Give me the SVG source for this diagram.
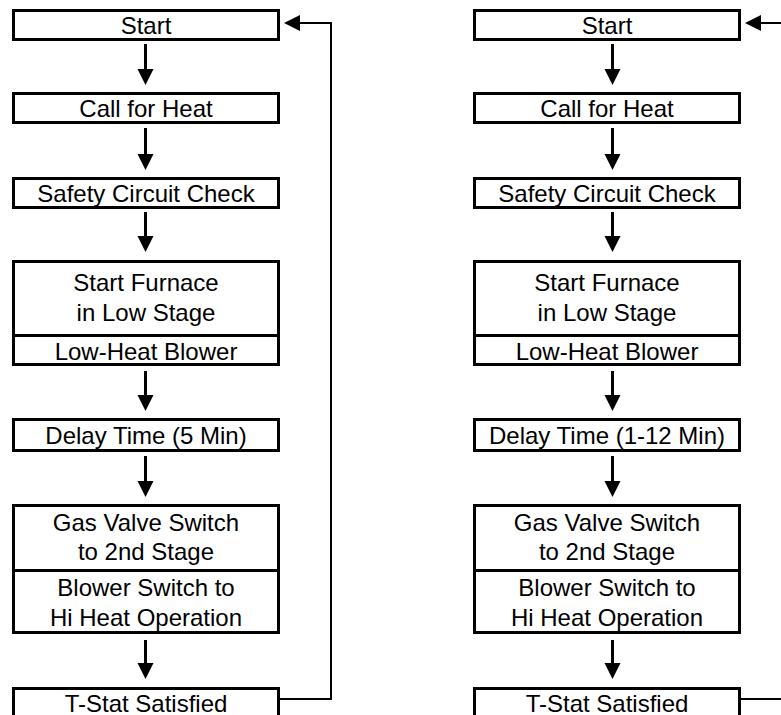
<svg xmlns="http://www.w3.org/2000/svg" width="781" height="715" viewBox="0 0 781 715">
<style>
.box{fill:#fff;stroke:#000;stroke-width:3}
.div{stroke:#000;stroke-width:3}
.t{font-family:"Liberation Sans",Arial,sans-serif;font-size:24px;fill:#000;text-anchor:middle}
.dn{fill:none;stroke:#000;stroke-width:3;marker-end:url(#ah)}
.ret{fill:none;stroke:#000;stroke-width:2}
.retA{fill:none;stroke:#000;stroke-width:2;marker-end:url(#ah)}
</style>
<defs>
<marker id="ah" markerUnits="userSpaceOnUse" markerWidth="16" markerHeight="16" refX="0" refY="8" orient="auto" overflow="visible">
<path d="M0,0 L16,8 L0,16 Z" fill="#000"/>
</marker>
</defs>
<rect width="781" height="715" fill="#fff"/>

<!-- Left column -->
<g id="L-start"><rect class="box" x="13.5" y="10.5" width="265" height="29"/><text class="t" x="146" y="33.5">Start</text></g>
<g id="L-call"><rect class="box" x="13.5" y="93.5" width="265" height="29"/><text class="t" x="146" y="116.5">Call for Heat</text></g>
<g id="L-safety"><rect class="box" x="13.5" y="178.5" width="265" height="29"/><text class="t" x="146" y="201.5">Safety Circuit Check</text></g>
<g id="L-furnace"><rect class="box" x="13.5" y="261.5" width="265" height="103"/><line class="div" x1="13.5" y1="335.5" x2="278.5" y2="335.5"/><text class="t" x="146" y="291">Start Furnace</text><text class="t" x="146" y="321">in Low Stage</text><text class="t" x="146" y="359.5">Low-Heat Blower</text></g>
<g id="L-delay"><rect class="box" x="13.5" y="419.5" width="265" height="31"/><text class="t" x="146" y="443.5">Delay Time (5 Min)</text></g>
<g id="L-gas"><rect class="box" x="13.5" y="505.5" width="265" height="127"/><line class="div" x1="13.5" y1="570.5" x2="278.5" y2="570.5"/><text class="t" x="146" y="531">Gas Valve Switch</text><text class="t" x="146" y="560">to 2nd Stage</text><text class="t" x="146" y="596">Blower Switch to</text><text class="t" x="146" y="626">Hi Heat Operation</text></g>
<g id="L-tstat"><rect class="box" x="13.5" y="688.5" width="265" height="40"/><text class="t" x="146" y="712">T-Stat Satisfied</text></g>

<!-- Right column -->
<g id="R-start"><rect class="box" x="474.5" y="10.5" width="265" height="29"/><text class="t" x="607" y="33.5">Start</text></g>
<g id="R-call"><rect class="box" x="474.5" y="93.5" width="265" height="29"/><text class="t" x="607" y="116.5">Call for Heat</text></g>
<g id="R-safety"><rect class="box" x="474.5" y="178.5" width="265" height="29"/><text class="t" x="607" y="201.5">Safety Circuit Check</text></g>
<g id="R-furnace"><rect class="box" x="474.5" y="261.5" width="265" height="103"/><line class="div" x1="474.5" y1="335.5" x2="739.5" y2="335.5"/><text class="t" x="607" y="291">Start Furnace</text><text class="t" x="607" y="321">in Low Stage</text><text class="t" x="607" y="359.5">Low-Heat Blower</text></g>
<g id="R-delay"><rect class="box" x="474.5" y="419.5" width="265" height="31"/><text class="t" x="607" y="443.5">Delay Time (1-12 Min)</text></g>
<g id="R-gas"><rect class="box" x="474.5" y="505.5" width="265" height="127"/><line class="div" x1="474.5" y1="570.5" x2="739.5" y2="570.5"/><text class="t" x="607" y="531">Gas Valve Switch</text><text class="t" x="607" y="560">to 2nd Stage</text><text class="t" x="607" y="596">Blower Switch to</text><text class="t" x="607" y="626">Hi Heat Operation</text></g>
<g id="R-tstat"><rect class="box" x="474.5" y="688.5" width="265" height="40"/><text class="t" x="607" y="712">T-Stat Satisfied</text></g>

<g id="connectors">
<path class="dn" d="M145.5,44 V69"/>
<path class="dn" d="M145.5,128 V154"/>
<path class="dn" d="M145.5,212 V236"/>
<path class="dn" d="M145.5,371 V395"/>
<path class="dn" d="M145.5,456 V481"/>
<path class="dn" d="M145.5,640 V663"/>
<path class="retA" d="M280,699 H331 V23 H300"/>
<path class="dn" d="M612.5,44 V69"/>
<path class="dn" d="M612.5,128 V154"/>
<path class="dn" d="M612.5,212 V236"/>
<path class="dn" d="M612.5,371 V395"/>
<path class="dn" d="M612.5,456 V481"/>
<path class="dn" d="M612.5,640 V663"/>
<path class="retA" d="M781,23 H761"/>
<path class="ret" d="M741,699 H781"/>
</g>
</svg>
